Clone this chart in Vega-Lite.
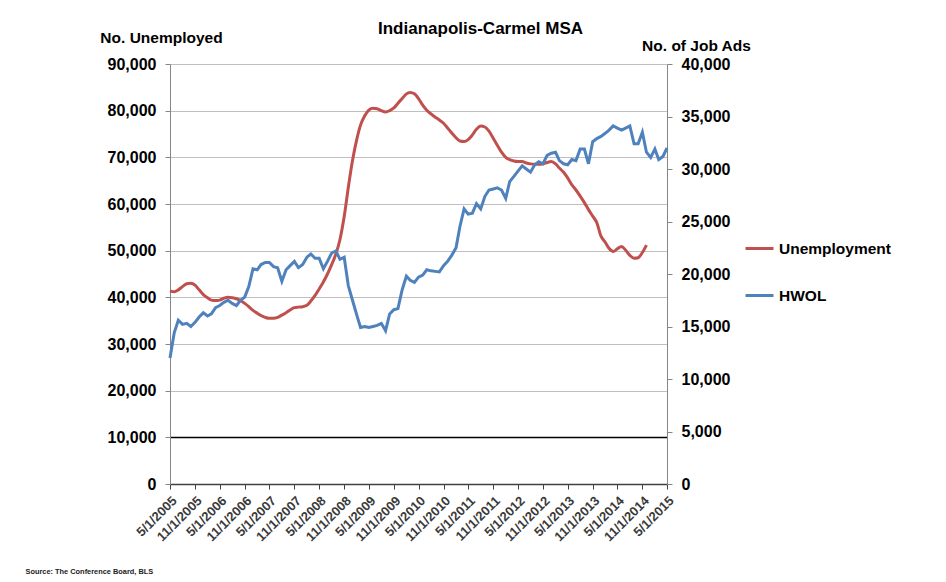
{
 "$schema": "https://vega.github.io/schema/vega-lite/v6.json",
 "width": 497, "height": 420,
 "autosize": {"type": "none"},
 "padding": {"left": 170, "top": 64, "right": 279, "bottom": 98},
 "background": "white",
 "title": {"text": "Indianapolis-Carmel MSA", "anchor": "middle", "frame": "group", "dx": 62, "dy": 12, "font": "Liberation Sans", "fontSize": 17, "fontWeight": "bold", "color": "black"},
 "config": {"view": {"stroke": null}},
 "data": {"values": [
  {"date":"2005/05/01","Unemployment":41400,"HWOL":12000},
  {"date":"2005/06/01","Unemployment":41200,"HWOL":14400},
  {"date":"2005/07/01","Unemployment":41600,"HWOL":15600},
  {"date":"2005/08/01","Unemployment":42300,"HWOL":15200},
  {"date":"2005/09/01","Unemployment":42900,"HWOL":15300},
  {"date":"2005/10/01","Unemployment":43000,"HWOL":15000},
  {"date":"2005/11/01","Unemployment":42600,"HWOL":15400},
  {"date":"2005/12/01","Unemployment":41600,"HWOL":15900},
  {"date":"2006/01/01","Unemployment":40600,"HWOL":16300},
  {"date":"2006/02/01","Unemployment":39900,"HWOL":16000},
  {"date":"2006/03/01","Unemployment":39400,"HWOL":16200},
  {"date":"2006/04/01","Unemployment":39300,"HWOL":16800},
  {"date":"2006/05/01","Unemployment":39400,"HWOL":17000},
  {"date":"2006/06/01","Unemployment":39800,"HWOL":17300},
  {"date":"2006/07/01","Unemployment":40000,"HWOL":17500},
  {"date":"2006/08/01","Unemployment":39900,"HWOL":17200},
  {"date":"2006/09/01","Unemployment":39700,"HWOL":17000},
  {"date":"2006/10/01","Unemployment":39300,"HWOL":17500},
  {"date":"2006/11/01","Unemployment":38700,"HWOL":17800},
  {"date":"2006/12/01","Unemployment":38000,"HWOL":18800},
  {"date":"2007/01/01","Unemployment":37200,"HWOL":20500},
  {"date":"2007/02/01","Unemployment":36600,"HWOL":20400},
  {"date":"2007/03/01","Unemployment":36100,"HWOL":20900},
  {"date":"2007/04/01","Unemployment":35700,"HWOL":21100},
  {"date":"2007/05/01","Unemployment":35500,"HWOL":21100},
  {"date":"2007/06/01","Unemployment":35500,"HWOL":20700},
  {"date":"2007/07/01","Unemployment":35700,"HWOL":20600},
  {"date":"2007/08/01","Unemployment":36200,"HWOL":19300},
  {"date":"2007/09/01","Unemployment":36700,"HWOL":20400},
  {"date":"2007/10/01","Unemployment":37300,"HWOL":20800},
  {"date":"2007/11/01","Unemployment":37800,"HWOL":21200},
  {"date":"2007/12/01","Unemployment":37900,"HWOL":20600},
  {"date":"2008/01/01","Unemployment":38000,"HWOL":20900},
  {"date":"2008/02/01","Unemployment":38300,"HWOL":21600},
  {"date":"2008/03/01","Unemployment":39200,"HWOL":21900},
  {"date":"2008/04/01","Unemployment":40400,"HWOL":21500},
  {"date":"2008/05/01","Unemployment":41800,"HWOL":21500},
  {"date":"2008/06/01","Unemployment":43300,"HWOL":20500},
  {"date":"2008/07/01","Unemployment":45000,"HWOL":21200},
  {"date":"2008/08/01","Unemployment":47000,"HWOL":22000},
  {"date":"2008/09/01","Unemployment":49300,"HWOL":22200},
  {"date":"2008/10/01","Unemployment":52400,"HWOL":21400},
  {"date":"2008/11/01","Unemployment":57300,"HWOL":21600},
  {"date":"2008/12/01","Unemployment":63500,"HWOL":18900},
  {"date":"2009/01/01","Unemployment":69300,"HWOL":17500},
  {"date":"2009/02/01","Unemployment":73800,"HWOL":16100},
  {"date":"2009/03/01","Unemployment":76900,"HWOL":14900},
  {"date":"2009/04/01","Unemployment":78900,"HWOL":15000},
  {"date":"2009/05/01","Unemployment":80100,"HWOL":14900},
  {"date":"2009/06/01","Unemployment":80500,"HWOL":15000},
  {"date":"2009/07/01","Unemployment":80400,"HWOL":15100},
  {"date":"2009/08/01","Unemployment":80000,"HWOL":15300},
  {"date":"2009/09/01","Unemployment":79700,"HWOL":14600},
  {"date":"2009/10/01","Unemployment":80000,"HWOL":16200},
  {"date":"2009/11/01","Unemployment":80600,"HWOL":16600},
  {"date":"2009/12/01","Unemployment":81600,"HWOL":16700},
  {"date":"2010/01/01","Unemployment":82600,"HWOL":18500},
  {"date":"2010/02/01","Unemployment":83600,"HWOL":19800},
  {"date":"2010/03/01","Unemployment":83900,"HWOL":19400},
  {"date":"2010/04/01","Unemployment":83600,"HWOL":19200},
  {"date":"2010/05/01","Unemployment":82600,"HWOL":19700},
  {"date":"2010/06/01","Unemployment":81200,"HWOL":19900},
  {"date":"2010/07/01","Unemployment":80100,"HWOL":20400},
  {"date":"2010/08/01","Unemployment":79300,"HWOL":20300},
  {"date":"2010/09/01","Unemployment":78600,"HWOL":20250},
  {"date":"2010/10/01","Unemployment":78000,"HWOL":20200},
  {"date":"2010/11/01","Unemployment":77300,"HWOL":20800},
  {"date":"2010/12/01","Unemployment":76300,"HWOL":21200},
  {"date":"2011/01/01","Unemployment":75200,"HWOL":21800},
  {"date":"2011/02/01","Unemployment":74200,"HWOL":22500},
  {"date":"2011/03/01","Unemployment":73500,"HWOL":24500},
  {"date":"2011/04/01","Unemployment":73400,"HWOL":26200},
  {"date":"2011/05/01","Unemployment":73800,"HWOL":25700},
  {"date":"2011/06/01","Unemployment":74800,"HWOL":25800},
  {"date":"2011/07/01","Unemployment":76000,"HWOL":26700},
  {"date":"2011/08/01","Unemployment":76700,"HWOL":26200},
  {"date":"2011/09/01","Unemployment":76500,"HWOL":27400},
  {"date":"2011/10/01","Unemployment":75600,"HWOL":28000},
  {"date":"2011/11/01","Unemployment":74100,"HWOL":28100},
  {"date":"2011/12/01","Unemployment":72600,"HWOL":28200},
  {"date":"2012/01/01","Unemployment":71100,"HWOL":28000},
  {"date":"2012/02/01","Unemployment":70000,"HWOL":27200},
  {"date":"2012/03/01","Unemployment":69500,"HWOL":28800},
  {"date":"2012/04/01","Unemployment":69200,"HWOL":29300},
  {"date":"2012/05/01","Unemployment":69100,"HWOL":29800},
  {"date":"2012/06/01","Unemployment":69100,"HWOL":30300},
  {"date":"2012/07/01","Unemployment":68800,"HWOL":30000},
  {"date":"2012/08/01","Unemployment":68600,"HWOL":29700},
  {"date":"2012/09/01","Unemployment":68500,"HWOL":30400},
  {"date":"2012/10/01","Unemployment":68500,"HWOL":30700},
  {"date":"2012/11/01","Unemployment":68600,"HWOL":30500},
  {"date":"2012/12/01","Unemployment":68900,"HWOL":31300},
  {"date":"2013/01/01","Unemployment":69100,"HWOL":31500},
  {"date":"2013/02/01","Unemployment":68600,"HWOL":31600},
  {"date":"2013/03/01","Unemployment":67700,"HWOL":30800},
  {"date":"2013/04/01","Unemployment":66800,"HWOL":30500},
  {"date":"2013/05/01","Unemployment":65600,"HWOL":30400},
  {"date":"2013/06/01","Unemployment":64100,"HWOL":30900},
  {"date":"2013/07/01","Unemployment":63000,"HWOL":30800},
  {"date":"2013/08/01","Unemployment":61700,"HWOL":31900},
  {"date":"2013/09/01","Unemployment":60300,"HWOL":31900},
  {"date":"2013/10/01","Unemployment":58800,"HWOL":30500},
  {"date":"2013/11/01","Unemployment":57400,"HWOL":32600},
  {"date":"2013/12/01","Unemployment":56000,"HWOL":32900},
  {"date":"2014/01/01","Unemployment":53100,"HWOL":33100},
  {"date":"2014/02/01","Unemployment":51800,"HWOL":33400},
  {"date":"2014/03/01","Unemployment":50500,"HWOL":33700},
  {"date":"2014/04/01","Unemployment":49800,"HWOL":34100},
  {"date":"2014/05/01","Unemployment":50400,"HWOL":33900},
  {"date":"2014/06/01","Unemployment":50900,"HWOL":33700},
  {"date":"2014/07/01","Unemployment":50100,"HWOL":33900},
  {"date":"2014/08/01","Unemployment":49000,"HWOL":34100},
  {"date":"2014/09/01","Unemployment":48400,"HWOL":32400},
  {"date":"2014/10/01","Unemployment":48500,"HWOL":32400},
  {"date":"2014/11/01","Unemployment":49600,"HWOL":33500},
  {"date":"2014/12/01","Unemployment":51200,"HWOL":31600},
  {"date":"2015/01/01","Unemployment":null,"HWOL":31100},
  {"date":"2015/02/01","Unemployment":null,"HWOL":31900},
  {"date":"2015/03/01","Unemployment":null,"HWOL":30900},
  {"date":"2015/04/01","Unemployment":null,"HWOL":31200},
  {"date":"2015/05/01","Unemployment":null,"HWOL":32000}
 ]},
 "encoding": {
  "x": {"field": "date", "type": "temporal",
   "scale": {"domain": [{"year": 2005, "month": 5, "date": 1}, {"year": 2015, "month": 5, "date": 1}]},
   "axis": {
    "values": [
     {"year":2005,"month":5,"date":1},{"year":2005,"month":11,"date":1},
     {"year":2006,"month":5,"date":1},{"year":2006,"month":11,"date":1},
     {"year":2007,"month":5,"date":1},{"year":2007,"month":11,"date":1},
     {"year":2008,"month":5,"date":1},{"year":2008,"month":11,"date":1},
     {"year":2009,"month":5,"date":1},{"year":2009,"month":11,"date":1},
     {"year":2010,"month":5,"date":1},{"year":2010,"month":11,"date":1},
     {"year":2011,"month":5,"date":1},{"year":2011,"month":11,"date":1},
     {"year":2012,"month":5,"date":1},{"year":2012,"month":11,"date":1},
     {"year":2013,"month":5,"date":1},{"year":2013,"month":11,"date":1},
     {"year":2014,"month":5,"date":1},{"year":2014,"month":11,"date":1},
     {"year":2015,"month":5,"date":1}
    ],
    "format": "%-m/%-d/%Y",
    "labelAngle": -45, "labelAlign": "right", "labelBaseline": "top",
    "labelFont": "Liberation Sans", "labelFontSize": 13, "labelFontWeight": "bold", "labelColor": "#3a3a3a",
    "labelOverlap": false, "labelBound": false, "labelFlush": false, "labelPadding": 5,
    "tickSize": 5, "tickColor": "#404040", "domainColor": "#404040", "domainWidth": 1.5, "grid": false,
    "title": "Source: The Conference Board, BLS",
    "titleX": -145, "titleY": 89, "titleAlign": "left", "titleAnchor": "start", "titleBaseline": "alphabetic",
    "titleFont": "Liberation Sans", "titleFontSize": 7.4, "titleFontWeight": "bold", "titleColor": "#222222"
   }
  }
 },
 "layer": [
  {
   "mark": {"type": "line", "strokeWidth": 3, "interpolate": "monotone"},
   "encoding": {
    "y": {"field": "Unemployment", "type": "quantitative",
     "scale": {"domain": [0, 90000], "nice": false},
     "axis": {
      "orient": "left",
      "values": [0, 10000, 20000, 30000, 40000, 50000, 60000, 70000, 80000, 90000],
      "format": ",d",
      "labelFont": "Liberation Sans", "labelFontSize": 16, "labelFontWeight": "bold", "labelColor": "black", "labelPadding": 9,
      "tickSize": 5, "tickColor": "#868686", "domainColor": "#868686",
      "grid": true,
      "gridColor": {"condition": {"test": "datum.value === 10000", "value": "#000000"}, "value": "#BFBFBF"},
      "gridWidth": {"condition": {"test": "datum.value === 10000", "value": 1.5}, "value": 1},
      "title": "No. Unemployed", "titleAngle": 0, "titleX": -9, "titleY": -22, "titleAlign": "center", "titleBaseline": "alphabetic",
      "titleFont": "Liberation Sans", "titleFontSize": 15.5, "titleFontWeight": "bold", "titleColor": "black"
     }
    },
    "color": {"datum": "Unemployment", "type": "nominal",
     "scale": {"domain": ["Unemployment", "HWOL"], "range": ["#C0504D", "#4F81BD"]},
     "legend": {
      "title": null, "orient": "none", "legendX": 574, "legendY": 169, "padding": 0,
      "symbolType": "stroke", "symbolSize": 784, "symbolStrokeWidth": 3,
      "labelFont": "Liberation Sans", "labelFontSize": 15.5, "labelFontWeight": "bold", "labelColor": "black",
      "labelOffset": 4, "rowPadding": 23
     }
    }
   }
  },
  {
   "mark": {"type": "line", "strokeWidth": 3},
   "encoding": {
    "y": {"field": "HWOL", "type": "quantitative",
     "scale": {"domain": [0, 40000], "nice": false},
     "axis": {
      "orient": "right",
      "values": [0, 5000, 10000, 15000, 20000, 25000, 30000, 35000, 40000],
      "format": ",d",
      "labelFont": "Liberation Sans", "labelFontSize": 16, "labelFontWeight": "bold", "labelColor": "black", "labelPadding": 9,
      "tickSize": 5, "tickColor": "#868686", "domainColor": "#868686",
      "grid": false,
      "title": "No. of Job Ads", "titleAngle": 0, "titleX": 29, "titleY": -14, "titleAlign": "center", "titleBaseline": "alphabetic",
      "titleFont": "Liberation Sans", "titleFontSize": 15.5, "titleFontWeight": "bold", "titleColor": "black"
     }
    },
    "color": {"datum": "HWOL", "type": "nominal"}
   }
  }
 ],
 "resolve": {"scale": {"y": "independent"}}
}
